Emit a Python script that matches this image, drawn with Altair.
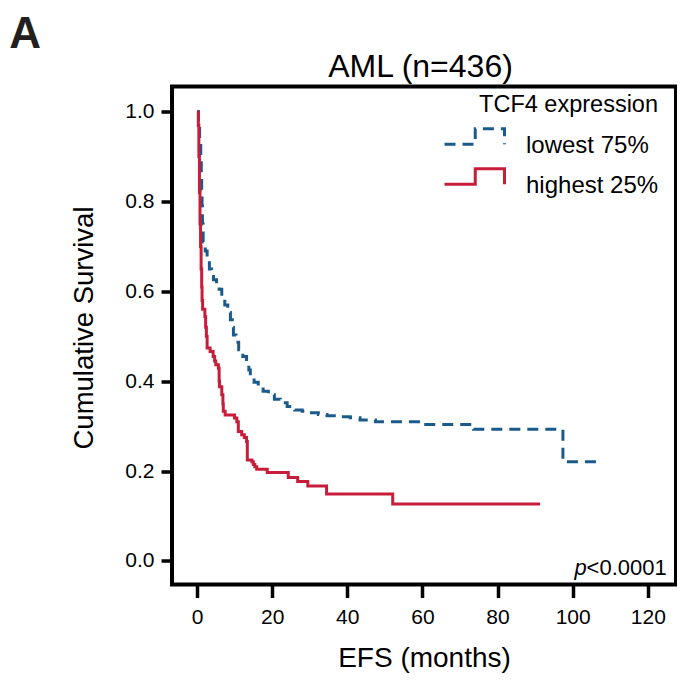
import altair as alt
import pandas as pd

# ---- data ----
groups = ["lowest 75%", "highest 25%"]
colors = ["#1A5B8C", "#C81D3A"]
dashes = [[11, 7], [1, 0]]

low_t = [0, 0.4, 0.7, 1.0, 1.15, 1.25, 1.35, 1.45, 1.65, 2.2, 2.7, 3.3, 3.9, 4.4, 5.2, 5.9,
         6.6, 7.4, 8.2, 8.9, 9.4, 9.7, 10.4, 11.1, 12.2, 13.2, 13.8, 14.2, 15.2, 16.3, 17.6,
         19.0, 20.6, 22.2, 24.0, 26.0, 28.0, 30.0, 32.3, 34.6, 37.5, 40.8, 43.4, 47.5, 60.3,
         73.6, 97.4, 106.8]
low_s = [1.0, 0.97, 0.93, 0.90, 0.86, 0.826, 0.79, 0.75, 0.71, 0.69, 0.67, 0.65, 0.633, 0.626,
         0.615, 0.605, 0.59, 0.57, 0.553, 0.537, 0.52, 0.503, 0.487, 0.47, 0.455, 0.44, 0.425,
         0.41, 0.398, 0.388, 0.378, 0.37, 0.36, 0.352, 0.344, 0.336, 0.333, 0.33, 0.326, 0.323,
         0.321, 0.319, 0.314, 0.31, 0.304, 0.293, 0.221, 0.221]

high_t = [0, 0.35, 0.5, 0.65, 0.8, 0.95, 1.1, 1.25, 1.35, 1.5, 2.1, 2.3, 2.5, 2.7, 3.5, 4.3,
          4.7, 5.0, 5.7, 5.9, 6.0, 6.6, 6.9, 7.0, 7.5, 10.0, 10.6, 11.0, 11.9, 12.6, 13.2, 13.4,
          14.6, 15.0, 15.4, 15.9, 18.7, 24.3, 26.8, 29.5, 34.5, 52.1, 91.3]
high_s = [1.0, 0.97, 0.90, 0.82, 0.75, 0.70, 0.65, 0.61, 0.58, 0.56, 0.544, 0.52, 0.50, 0.474,
          0.466, 0.455, 0.445, 0.437, 0.429, 0.40, 0.388, 0.37, 0.35, 0.333, 0.325, 0.318, 0.31,
          0.288, 0.281, 0.275, 0.266, 0.225, 0.221, 0.215, 0.21, 0.204, 0.197, 0.186, 0.177,
          0.167, 0.149, 0.127, 0.127]

x_ticks = [0, 20, 40, 60, 80, 100, 120]
y_ticks = [0.0, 0.2, 0.4, 0.6, 0.8, 1.0]

df = pd.concat([
    pd.DataFrame({"t": low_t, "s": low_s, "group": groups[0]}),
    pd.DataFrame({"t": high_t, "s": high_s, "group": groups[1]}),
], ignore_index=True)

FONT = "Liberation Sans"
W, H = 504, 498
# step-shaped legend glyph, drawn a little above the label's middle
STEP = "M-2,-0.13 H0.05 V-1.17 H2 V-0.13"

legend = alt.Legend(
    title="TCF4 expression", orient="none", legendX=286, legendY=6,
    titleAnchor="end", titleFont=FONT, titleFontSize=23.5, titleFontWeight="normal",
    titleColor="black", titlePadding=13.8,
    labelFont=FONT, labelFontSize=24, labelColor="black", labelOffset=35,
    symbolType=STEP, symbolSize=900, symbolStrokeWidth=3, rowPadding=3,
)

enc = dict(
    x=alt.X("t:Q", scale=alt.Scale(domain=[-6.65, 127.5], nice=False, zero=False),
            axis=alt.Axis(values=x_ticks, title="EFS (months)", tickSize=13, labelPadding=9,
                          labelFontSize=21, titleFontSize=28, titleY=82,
                          titleBaseline="alphabetic")),
    y=alt.Y("s:Q", scale=alt.Scale(domain=[-0.0523, 1.056], nice=False, zero=False),
            axis=alt.Axis(values=y_ticks, format=".1f", title="Cumulative Survival",
                          tickSize=11, labelPadding=7, labelFontSize=21, titleFontSize=27.5,
                          titleX=-79.5, titleY=241, titleAngle=270,
                          titleBaseline="alphabetic", titleAlign="center")),
    color=alt.Color("group:N", scale=alt.Scale(domain=groups, range=colors), legend=legend),
    strokeDash=alt.StrokeDash("group:N", scale=alt.Scale(domain=groups, range=dashes),
                              legend=legend),
)

# blue (lowest 75%) drawn first, red (highest 25%) on top, as in the reference
lines_low = alt.Chart(df).transform_filter(alt.datum.group == groups[0]).mark_line(
    interpolate="step-after", strokeWidth=3, clip=True).encode(**enc)
lines_high = alt.Chart(df).transform_filter(alt.datum.group == groups[1]).mark_line(
    interpolate="step-after", strokeWidth=3, clip=True).encode(**enc)

title_txt = alt.Chart(pd.DataFrame({"txt": ["AML (n=436)"]})).mark_text(
    font=FONT, fontSize=32, color="black", align="center", baseline="alphabetic").encode(
    x=alt.value(248.5), y=alt.value(-9.5), text="txt:N")

panel = alt.Chart(pd.DataFrame({"txt": ["A"]})).mark_text(
    font=FONT, fontSize=44, fontWeight="bold", color="#231f20", align="left",
    baseline="alphabetic").encode(
    x=alt.value(-162.7), y=alt.value(-38.5), text="txt:N")

pval_num = alt.Chart(pd.DataFrame({"txt": ["<0.0001"]})).mark_text(
    font=FONT, fontSize=22, color="black", align="right", baseline="alphabetic").encode(
    x=alt.value(494.7), y=alt.value(488.5), text="txt:N")

pval_p = alt.Chart(pd.DataFrame({"txt": ["p"]})).mark_text(
    font=FONT, fontSize=22, fontStyle="italic", color="black", align="right",
    baseline="alphabetic").encode(
    x=alt.value(414.8), y=alt.value(488.5), text="txt:N")

chart = alt.layer(lines_low, lines_high, title_txt, panel, pval_num, pval_p).properties(
    width=W, height=H,
    autosize=alt.AutoSizeParams(type="none"),
    padding={"left": 164, "top": 78.5, "right": 1, "bottom": 90},
).configure_view(
    stroke="black", strokeWidth=4
).configure_axis(
    domain=False, grid=False, tickColor="black", tickWidth=3.5,
    labelColor="black", titleColor="black", labelFont=FONT, titleFont=FONT,
    titleFontWeight="normal"
)

chart.save("out.html", embed_options={"renderer": "svg", "actions": False})
